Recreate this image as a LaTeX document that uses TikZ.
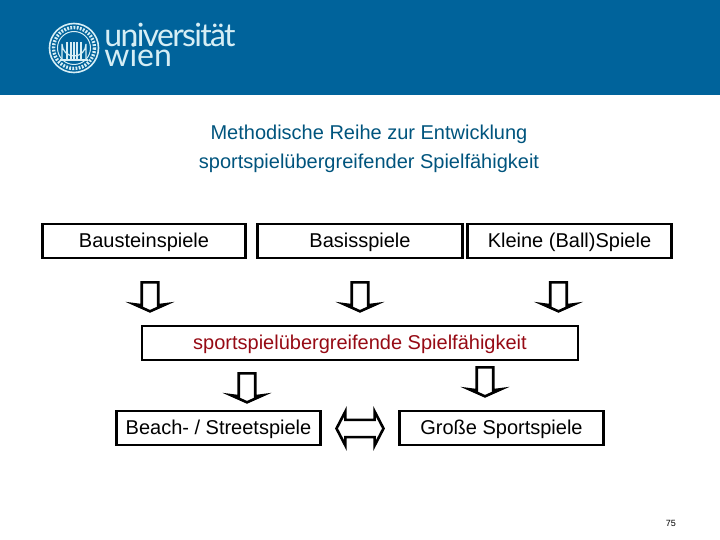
\documentclass[tikz,border=0pt]{standalone}
\usepackage{fontspec}
\setmainfont{Liberation Sans}
\newfontfamily\logofont{Lato}
\usetikzlibrary{shapes.arrows}
\definecolor{wienblue}{RGB}{0,99,155}
\definecolor{wienlight}{RGB}{214,238,245}
\definecolor{titleblue}{RGB}{0,84,125}
\definecolor{redtext}{RGB}{150,10,20}
\tikzset{
	boxnode/.style={draw, line width=1.3pt, minimum height=17pt, inner sep=0pt, text height=7.4pt, text depth=1pt, font=\fontsize{10}{11}\selectfont, text=black},
	downarrow/.style={single arrow, draw, line width=1.3pt, shape border rotate=270, inner sep=3pt, minimum height=14.5pt, minimum width=16pt, single arrow head extend=3.4pt, single arrow tip angle=132, single arrow head indent=0.5pt},
	logotext/.style={anchor=base west, inner sep=0pt, text=wienlight, font=\logofont\fontsize{16}{16}\selectfont},
}
\begin{document}
\begin{tikzpicture}[x=0.5pt, y=-0.5pt, every node/.style={font=\fontsize{10}{14.5}\selectfont}]
	\useasboundingbox (0,0) rectangle (720,540);
	\fill[wienblue] (0,0) rectangle (720,95);
	% seal
	\draw[wienlight, line width=0.8pt] (74,48) circle (24.5);
	\draw[wienlight, line width=1.7pt, dash pattern=on 0.9pt off 0.7pt] (74,48) circle (20.5);
	\draw[wienlight, line width=0.5pt] (74,48) circle (16.5);
	\draw[wienlight, line width=0.6pt] (62,60) -- (62,44) arc (180:0:12) -- (86,60);
	\foreach \x in {67,71,74,77,81} {\draw[wienlight, line width=0.6pt] (\x,42) -- (\x,59);}
	\draw[wienlight, line width=0.7pt] (60,60) -- (88,60);
	\node[logotext] (uni) at (104,47) {\addfontfeature{LetterSpace=-5.3}universität};
	\node[logotext] (wien) at (104,67) {wien};
	% title
	\node[align=center, text=titleblue] (title) at (369,149) {Methodische Reihe zur Entwicklung\\sportspielübergreifender Spielfähigkeit};
	% boxes
	\node[boxnode, minimum width=101.5pt] (bau) at (144,241) {Bausteinspiele};
	\node[boxnode, minimum width=102.5pt] (bas) at (360,241) {Basisspiele};
	\node[boxnode, minimum width=102pt] (kle) at (569.5,241) {Kleine (Ball)Spiele};
	\node[boxnode, minimum width=218pt, text=redtext] (spo) at (360,343) {sportspielübergreifende Spielfähigkeit};
	\node[boxnode, minimum width=102pt] (bea) at (218.5,428) {Beach- / Streetspiele};
	\node[boxnode, minimum width=102pt] (gro) at (501.5,428) {Große Sportspiele};
	% arrows
	\foreach \n/\x/\y in {a/150/295, b/360/295, c/558.5/295, d/247/386, e/485/380} {\node[downarrow] (\n) at (\x,\y) {};}
	\node[double arrow, draw, line width=1.3pt, inner sep=3.2pt, minimum height=23.5pt, minimum width=17pt, double arrow head extend=3.8pt, double arrow tip angle=125] (lr) at (360,428.5) {};
	\node[inner sep=0pt, font=\fontsize{4.5}{5}\selectfont] (page) at (671,523) {75};
\end{tikzpicture}
\end{document}
